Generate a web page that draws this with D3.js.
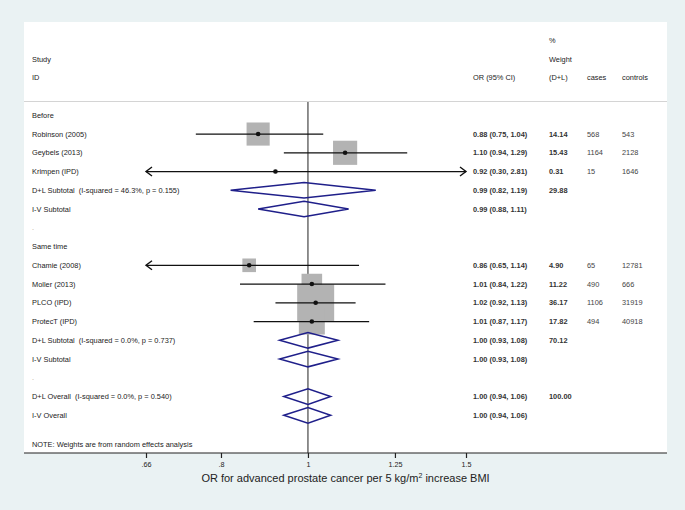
<!DOCTYPE html>
<html><head><meta charset="utf-8">
<script src="https://cdn.jsdelivr.net/npm/d3@7"></script>
<style>body{margin:0;background:#eaf2f3;}svg{display:block;}text{white-space:pre;}</style>
</head><body>
<svg id="c" width="685" height="510"></svg>
<script>
// ---- data ----
const labels = ["Before","Robinson (2005)","Geybels (2013)","Krimpen (IPD)",
  "D+L Subtotal  (I-squared = 46.3%, p = 0.155)","I-V Subtotal",".","Same time",
  "Chamie (2008)","Moller (2013)","PLCO (IPD)","ProtecT (IPD)",
  "D+L Subtotal  (I-squared = 0.0%, p = 0.737)","I-V Subtotal",".",
  "D+L Overall  (I-squared = 0.0%, p = 0.540)","I-V Overall"];
const rowType = ["head","study","study","study","diamond","diamond","blank","head",
  "study","study","study","study","diamond","diamond","blank","diamond","diamond"];
const orVals = [null,0.88,1.10,0.92,0.99,0.99,null,null,0.86,1.01,1.02,1.01,1.00,1.00,null,1.00,1.00];
const ciLow  = [null,0.75,0.94,0.30,0.82,0.88,null,null,0.65,0.84,0.92,0.87,0.93,0.93,null,0.94,0.94];
const ciHigh = [null,1.04,1.29,2.81,1.19,1.11,null,null,1.14,1.22,1.13,1.17,1.08,1.08,null,1.06,1.06];
const weights = ["","14.14","15.43","0.31","29.88","","","","4.90","11.22","36.17","17.82","70.12","","","100.00",""];
const cases = ["","568","1164","15","","","","","65","490","1106","494","","","","",""];
const controls = ["","543","2128","1646","","","","","12781","666","31919","40918","","","","",""];
const tickVals = [0.66,0.8,1,1.25,1.5];
const tickLabels = [".66",".8","1","1.25","1.5"];
const axisTitle = "OR for advanced prostate cancer per 5 kg/m";
const axisTitleEnd = " increase BMI";

const svg = d3.select("#c");
const font = "'Liberation Sans', Arial, sans-serif";
const txt = "#222";
const navy = "#1f1f8a";
const fs = 7.4;

// panel
const panel = {l:24, r:667, t:22, b:453};
svg.append("rect").attr("x",panel.l).attr("y",panel.t)
  .attr("width",panel.r-panel.l).attr("height",panel.b-panel.t).attr("fill","#fff");

// scales
const x = d3.scaleLog().domain([0.66,1.5]).range([146,466]);
const row = d3.scaleLinear().domain([0,1]).range([40.3,59.05]);
const firstDataRow = 4;
const yOf = i => row(firstDataRow + i);

// header
const hdr = [
  {t:"%", x:549, r:0},
  {t:"Study", x:32, r:1},{t:"Weight", x:549, r:1},
  {t:"ID", x:32, r:2},{t:"OR (95% CI)", x:473, r:2},{t:"(D+L)", x:549, r:2},
  {t:"cases", x:587, r:2},{t:"controls", x:622, r:2}];
svg.selectAll("text.hdr").data(hdr).join("text").attr("class","hdr")
  .attr("x",d=>d.x).attr("y",d=>row(d.r)+2.6)
  .attr("font-family",font).attr("font-size",fs).attr("fill",txt).text(d=>d.t);

// separator
svg.append("line").attr("x1",panel.l).attr("x2",panel.r)
  .attr("y1",101.5).attr("y2",101.5).attr("stroke","#d4d4d4").attr("stroke-width",1.2);

// null line
svg.append("line").attr("x1",x(1)).attr("x2",x(1)).attr("y1",102).attr("y2",panel.b)
  .attr("stroke","#222").attr("stroke-width",1);

const idx = d3.range(labels.length);
const studies = idx.filter(i=>rowType[i]==="study");
const diamonds = idx.filter(i=>rowType[i]==="diamond");
const k = 6.15;

// squares
svg.selectAll("rect.sq").data(studies).join("rect").attr("class","sq")
  .attr("x",i=>x(orVals[i]) - k*Math.sqrt(+weights[i])/2)
  .attr("y",i=>yOf(i) - k*Math.sqrt(+weights[i])/2)
  .attr("width",i=>k*Math.sqrt(+weights[i]))
  .attr("height",i=>k*Math.sqrt(+weights[i]))
  .attr("fill","#b3b3b3");

// CI lines
const [dmin,dmax] = x.domain();
studies.forEach(i=>{
  const lo = Math.max(ciLow[i],dmin), hi = Math.min(ciHigh[i],dmax);
  const y = yOf(i);
  svg.append("line").attr("x1",x(lo)).attr("x2",x(hi)).attr("y1",y).attr("y2",y)
    .attr("stroke","#111").attr("stroke-width",1.3);
  if (ciLow[i] < dmin) {
    const x0 = x(dmin);
    svg.append("path").attr("d",`M${x0+6},${y-4.5}L${x0},${y}L${x0+6},${y+4.5}`)
      .attr("fill","none").attr("stroke","#111").attr("stroke-width",1.4);
  }
  if (ciHigh[i] > dmax) {
    const x1 = x(dmax);
    svg.append("path").attr("d",`M${x1-6},${y-4.5}L${x1},${y}L${x1-6},${y+4.5}`)
      .attr("fill","none").attr("stroke","#111").attr("stroke-width",1.4);
  }
  svg.append("circle").attr("cx",x(orVals[i])).attr("cy",y).attr("r",2.3).attr("fill","#111");
});

// diamonds
const dh = 7.8;
svg.selectAll("path.dm").data(diamonds).join("path").attr("class","dm")
  .attr("d",i=>{const y=yOf(i);
    return `M${x(ciLow[i])},${y}L${x(orVals[i])},${y-dh}L${x(ciHigh[i])},${y}L${x(orVals[i])},${y+dh}Z`;})
  .attr("fill","none").attr("stroke",navy).attr("stroke-width",1.5);

// labels
svg.selectAll("text.lab").data(idx).join("text").attr("class","lab")
  .attr("x",32).attr("y",i=>yOf(i)+2.6)
  .attr("font-family",font).attr("font-size",fs)
  .attr("fill",i=>rowType[i]==="blank" ? "#b9a58a" : txt).text(i=>labels[i]);

const fmt = d3.format(".2f");
svg.selectAll("text.or").data(idx.filter(i=>orVals[i]!==null)).join("text").attr("class","or")
  .attr("x",473).attr("y",i=>yOf(i)+2.6)
  .attr("font-family",font).attr("font-size",fs).attr("font-weight","bold").attr("fill","#333")
  .text(i=>`${fmt(orVals[i])} (${fmt(ciLow[i])}, ${fmt(ciHigh[i])})`);
svg.selectAll("text.w").data(idx.filter(i=>weights[i])).join("text").attr("class","w")
  .attr("x",549).attr("y",i=>yOf(i)+2.6)
  .attr("font-family",font).attr("font-size",fs).attr("font-weight","bold").attr("fill","#333")
  .text(i=>weights[i]);
svg.selectAll("text.ca").data(idx.filter(i=>cases[i])).join("text").attr("class","ca")
  .attr("x",587).attr("y",i=>yOf(i)+2.6)
  .attr("font-family",font).attr("font-size",fs).attr("fill","#444").text(i=>cases[i]);
svg.selectAll("text.co").data(idx.filter(i=>controls[i])).join("text").attr("class","co")
  .attr("x",622).attr("y",i=>yOf(i)+2.6)
  .attr("font-family",font).attr("font-size",fs).attr("fill","#444").text(i=>controls[i]);

// note
svg.append("text").attr("x",32).attr("y",446.6).attr("font-family",font).attr("font-size",fs)
  .attr("fill",txt).text("NOTE: Weights are from random effects analysis");

// axis
svg.append("line").attr("x1",panel.l).attr("x2",panel.r).attr("y1",panel.b).attr("y2",panel.b)
  .attr("stroke","#222").attr("stroke-width",1.2);
const axis = d3.axisBottom(x).tickValues(tickVals).tickFormat((d,i)=>tickLabels[i])
  .tickSize(5).tickPadding(4);
const ag = svg.append("g").attr("transform",`translate(0,${panel.b})`).call(axis);
ag.select(".domain").remove();
ag.selectAll("line").attr("stroke","#222").attr("stroke-width",1.2);
ag.selectAll("text").attr("font-family",font).attr("font-size",7.2).attr("fill","#222");

const t = svg.append("text").attr("x",(panel.l+panel.r)/2).attr("y",482)
  .attr("text-anchor","middle").attr("font-family",font).attr("font-size",11).attr("fill","#222");
t.append("tspan").text(axisTitle);
t.append("tspan").attr("dy",-4).attr("font-size",7).text("2");
t.append("tspan").attr("dy",4).text(axisTitleEnd);
</script>
</body></html>
